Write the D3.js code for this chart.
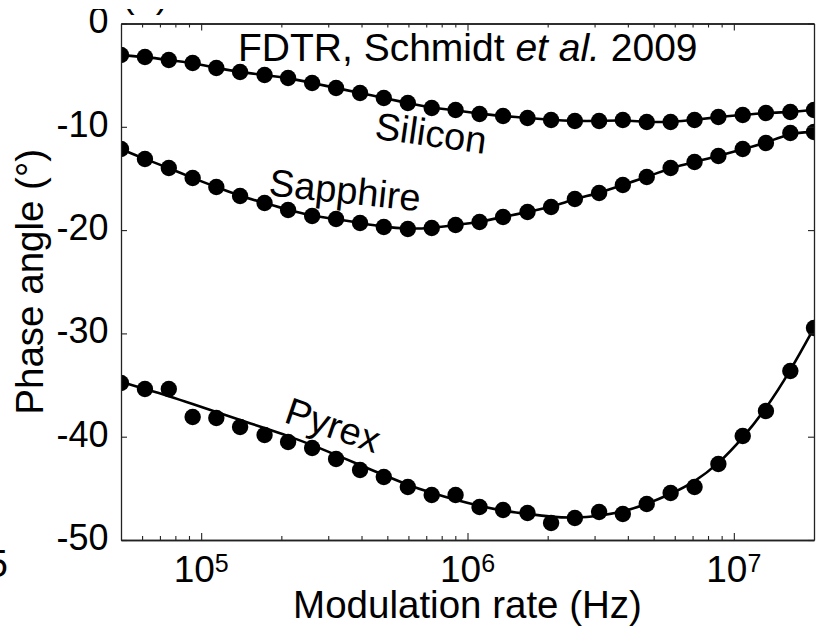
<!DOCTYPE html>
<html>
<head>
<meta charset="utf-8">
<script src="https://cdn.jsdelivr.net/npm/d3@7"></script>
<style>
  html, body { margin: 0; padding: 0; background: #fff; }
  svg { display: block; }
  text { font-family: "Liberation Sans", Arial, sans-serif; fill: #000; }
</style>
</head>
<body>
<svg id="chart" width="816" height="626"></svg>
<script>
// ---- data ----
const freq = [50000, 61500, 75600, 92900, 114000, 140000, 173000, 212000, 261000, 321000,
  395000, 485000, 597000, 734000, 902000, 1.11e6, 1.36e6, 1.68e6, 2.06e6, 2.53e6,
  3.12e6, 3.83e6, 4.71e6, 5.79e6, 7.12e6, 8.75e6, 1.08e7, 1.32e7, 1.63e7, 2.0e7];

const silicon = [-3.05, -3.24, -3.53, -3.82, -4.31, -4.70, -4.99, -5.28, -5.76, -6.24,
  -6.73, -7.21, -7.70, -8.18, -8.37, -8.76, -8.95, -9.15, -9.34, -9.44,
  -9.44, -9.34, -9.54, -9.54, -9.34, -9.05, -8.86, -8.66, -8.57, -8.37];

const sapphire = [-12.15, -13.12, -13.99, -14.96, -15.83, -16.70, -17.38, -18.05, -18.64, -18.93,
  -19.31, -19.70, -19.89, -19.80, -19.51, -19.22, -18.73, -18.25, -17.76, -16.99,
  -16.41, -15.63, -14.86, -13.99, -13.41, -12.83, -12.15, -11.57, -10.60, -10.50];

const pyrex = [-34.80, -35.38, -35.38, -38.09, -38.19, -39.06, -39.84, -40.51, -41.09, -42.16,
  -43.22, -43.90, -44.87, -45.64, -45.64, -46.81, -47.10, -47.39, -48.35, -47.87,
  -47.29, -47.48, -46.52, -45.45, -44.87, -42.64, -39.93, -37.51, -33.64, -29.48];

const pyrexFit = [-34.70, -35.38, -36.06, -36.83, -37.61, -38.38, -39.16, -39.93, -40.80, -41.77,
  -42.74, -43.71, -44.68, -45.45, -46.13, -46.71, -47.19, -47.48, -47.77, -47.87,
  -47.68, -47.29, -46.52, -45.55, -44.39, -42.64, -40.13, -37.32, -33.64, -29.48];

const xTicks = [1e5, 1e6, 1e7];
const xTickExp = ["5", "6", "7"];
const xMinor = [6e4, 7e4, 8e4, 9e4, 2e5, 3e5, 4e5, 5e5, 6e5, 7e5, 8e5, 9e5,
  2e6, 3e6, 4e6, 5e6, 6e6, 7e6, 8e6, 9e6];
const yTicks = [0, -10, -20, -30, -40, -50];

const seriesLabels = [
  { text: "Silicon", x: 431, y: 133, rot: 8 },
  { text: "Sapphire", x: 345, y: 190, rot: 6 },
  { text: "Pyrex", x: 333, y: 425, rot: 19 }
];

// ---- layout ----
const W = 816, H = 626;
const plot = { left: 121, right: 814, top: 23.5, bottom: 540 };

const svg = d3.select("#chart");

const x = d3.scaleLog().domain([5e4, 2e7]).range([plot.left, plot.right]);
const y = d3.scaleLinear().domain([-50, 0]).range([plot.bottom, plot.top]);

svg.append("defs").append("clipPath").attr("id", "plotclip")
  .append("rect")
  .attr("x", plot.left).attr("y", plot.top)
  .attr("width", plot.right - plot.left).attr("height", plot.bottom - plot.top);

// ---- data layer ----
const g = svg.append("g").attr("clip-path", "url(#plotclip)");

const lineGen = d3.line().x(d => x(d[0])).y(d => y(d[1])).curve(d3.curveBasis);

const lines = [
  freq.map((f, i) => [f, silicon[i]]),
  freq.map((f, i) => [f, sapphire[i]]),
  freq.map((f, i) => [f, pyrexFit[i]])
];
g.selectAll("path.fit").data(lines).join("path")
  .attr("class", "fit")
  .attr("d", lineGen)
  .attr("fill", "none").attr("stroke", "#000").attr("stroke-width", 2.6);

[silicon, sapphire, pyrex].forEach(vals => {
  g.append("g").selectAll("circle")
    .data(freq.map((f, i) => [f, vals[i]]))
    .join("circle")
    .attr("cx", d => x(d[0])).attr("cy", d => y(d[1]))
    .attr("r", 8.2).attr("fill", "#000");
});

// ---- axes ----
const axisColor = "#222";
function styleAxis(sel) {
  sel.selectAll("path.domain").attr("stroke", axisColor).attr("stroke-width", 1.3);
  sel.selectAll(".tick line").attr("stroke", axisColor).attr("stroke-width", 1.1);
  sel.selectAll("text").remove();
}

svg.append("g").attr("transform", `translate(0,${plot.bottom})`)
  .call(d3.axisBottom(x).tickValues(xTicks).tickSizeInner(-7).tickSizeOuter(0).tickFormat(""))
  .call(styleAxis);
svg.append("g").attr("transform", `translate(0,${plot.bottom})`)
  .call(d3.axisBottom(x).tickValues(xMinor).tickSizeInner(-4).tickSizeOuter(0).tickFormat(""))
  .call(styleAxis);
svg.append("g").attr("transform", `translate(0,${plot.top})`)
  .call(d3.axisTop(x).tickValues(xTicks).tickSizeInner(-7).tickSizeOuter(0).tickFormat(""))
  .call(styleAxis);
svg.append("g").attr("transform", `translate(0,${plot.top})`)
  .call(d3.axisTop(x).tickValues(xMinor).tickSizeInner(-4).tickSizeOuter(0).tickFormat(""))
  .call(styleAxis);

const yAxisL = svg.append("g").attr("transform", `translate(${plot.left},0)`)
  .call(d3.axisLeft(y).tickValues(yTicks).tickSizeInner(-6).tickSizeOuter(0).tickPadding(12.5)
    .tickFormat(d => String(d)));
yAxisL.selectAll("path.domain").attr("stroke", axisColor).attr("stroke-width", 1.3);
yAxisL.selectAll(".tick line").attr("stroke", axisColor).attr("stroke-width", 1.1);
yAxisL.selectAll("text")
  .attr("font-size", 36).attr("dy", "0.26em").attr("fill", "#000")
  .style("font-family", "\"Liberation Sans\", Arial, sans-serif");

svg.append("g").attr("transform", `translate(${plot.right},0)`)
  .call(d3.axisRight(y).tickValues(yTicks).tickSizeInner(-6).tickSizeOuter(0).tickFormat(""))
  .call(styleAxis);

// x tick labels with superscripts
const xl = svg.append("g").selectAll("text").data(xTicks).join("text")
  .attr("x", d => x(d)).attr("y", 582)
  .attr("text-anchor", "middle").attr("font-size", 37);
xl.append("tspan").text("10");
xl.append("tspan").attr("dy", -10).attr("font-size", 25).text((d, i) => xTickExp[i]);

// ---- axis titles ----
svg.append("text")
  .attr("x", (plot.left + plot.right) / 2).attr("y", 618)
  .attr("text-anchor", "middle").attr("font-size", 38.5)
  .text("Modulation rate (Hz)");

svg.append("text")
  .attr("transform", `translate(43,${(plot.top + plot.bottom) / 2}) rotate(-90)`)
  .attr("text-anchor", "middle").attr("font-size", 38.5)
  .text("Phase angle (°)");

// ---- annotation ----
const title = svg.append("text").attr("x", 238).attr("y", 61).attr("font-size", 39);
title.append("tspan").text("FDTR, Schmidt ");
title.append("tspan").attr("font-style", "italic").text("et al.");
title.append("tspan").text(" 2009");

svg.append("g").selectAll("text").data(seriesLabels).join("text")
  .attr("transform", d => `translate(${d.x},${d.y}) rotate(${d.rot})`)
  .attr("text-anchor", "middle").attr("dy", "0.35em").attr("font-size", 38)
  .text(d => d.text);

// ---- cropped fragments of neighbouring panel ----
svg.append("text").attr("x", 122).attr("y", 7).attr("font-size", 38).text("(a)");
svg.append("text").attr("x", 8).attr("y", 577).attr("text-anchor", "end").attr("font-size", 38).text("5");
svg.append("rect").attr("x", 0).attr("y", 0).attr("width", W).attr("height", 9).attr("fill", "#fff");
</script>
</body>
</html>
